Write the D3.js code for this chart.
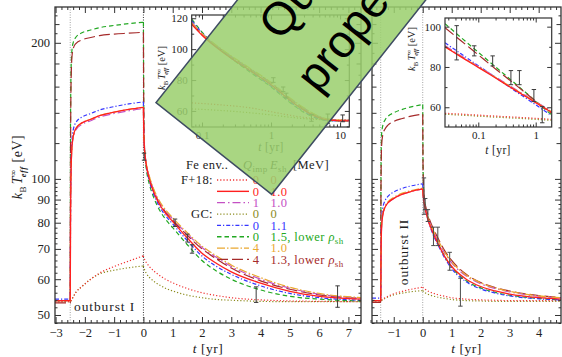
<!DOCTYPE html>
<html>
<head>
<meta charset="utf-8">
<script src="https://cdn.jsdelivr.net/npm/d3@7/dist/d3.min.js"></script>
<style>
  body { margin: 0; background: #fff; }
  svg { display: block; }
</style>
</head>
<body>
<script>
// model order: F+18, F+18 heated, Q=1, GC, GC 1.1, GC 1.5 lower rho, Q=4, Q=4 1.3 lower rho
const qImp = ["0", "0", "1", "0", "0", "0", "4", "4"];
const eSh = ["0", "1.0", "1.0", "0", "1.1", "1.5", "1.0", "1.3"];
const lowerRho = [false, false, false, false, false, true, false, true];

// outburst I (main panel)
const burst1T = [-2.5, -2.49, -2.47, -2.44, -2.4, -2.3, -2.1, -1.8, -1.5, -1, -0.5, 0];
const burst1 = [
  [53.5, 53.6, 53.8, 54.2, 54.8, 56.2, 57.8, 60.0, 61.9, 64.0, 65.8, 67.6],
  [53.8, 80, 105, 118, 124, 129.5, 133, 135.5, 138, 140.5, 142.5, 144],
  [53.8, 79, 104, 117, 123, 128.5, 132, 134.5, 137, 139.5, 141.5, 143],
  [53.5, 53.6, 53.8, 54.2, 54.8, 56.2, 57.8, 60.0, 61.6, 62.8, 63.6, 64.2],
  [54.2, 82, 108, 122, 128, 133.5, 137, 139.5, 142, 144.5, 146.5, 148],
  [53.8, 130, 175, 193, 200, 206, 210.5, 213.5, 216, 218.5, 220.5, 222],
  [53.8, 80, 105, 118, 124, 129.5, 133, 135.5, 138, 140.5, 142.5, 144],
  [53.2, 110, 165, 186.5, 194, 199.5, 203, 205.5, 207.5, 209, 210, 211]
];
const cool1T = [0, 0.01, 0.03, 0.06, 0.1, 0.2, 0.35, 0.5, 0.75, 1, 1.5, 2, 2.5, 3, 4, 5, 6, 7.5];
const cool1 = [
  [67.6, 67.2, 66.6, 66, 65.3, 64, 62.6, 61.5, 60, 58.9, 57.2, 56, 55.2, 54.6, 54, 53.7, 53.6, 53.5],
  [144, 128, 118, 112, 107, 100, 93.5, 89, 84, 80.5, 74, 68.5, 65, 62.3, 58.8, 56.4, 55, 54.2],
  [143, 127, 118, 112, 107.5, 101, 94.5, 90, 85, 81.5, 75.5, 70.5, 67, 64, 60, 57.3, 55.6, 54.5],
  [64.2, 63.8, 63.2, 62.5, 61.8, 60.6, 59.4, 58.5, 57.3, 56.5, 55.3, 54.6, 54.1, 53.9, 53.6, 53.5, 53.5, 53.5],
  [148, 130, 119, 112, 106.5, 99, 92.5, 88, 83, 79.5, 73, 67.5, 64, 61.5, 58, 55.8, 54.6, 53.9],
  [222, 150, 121, 111, 105, 97.5, 91, 86.5, 81.5, 78, 71.5, 66, 62.5, 60, 56.8, 55, 54.2, 53.7],
  [144, 128, 118.5, 112.5, 108, 101.5, 95, 90.5, 85.5, 82, 76, 71, 67.5, 64.5, 60.5, 57.6, 55.8, 54.6],
  [211, 148, 121, 112, 107, 100.5, 94, 89.5, 84.5, 81, 75, 70, 66.5, 63.5, 59.5, 57, 55.4, 54.4]
];

// outburst II (right panel)
const burst2T = [-1.45, -1.44, -1.42, -1.38, -1.3, -1.2, -1, -0.7, -0.4, 0];
const burst2 = [
  [53.8, 53.9, 54, 54.2, 54.6, 55, 55.7, 56.4, 57, 57.6],
  [53.8, 66, 78, 83, 86.5, 88.5, 90.5, 92.5, 93.8, 95],
  [53.8, 66, 78, 83, 86.5, 88.5, 90.5, 92.5, 93.8, 95],
  [53.6, 53.7, 53.8, 54, 54.4, 54.8, 55.4, 55.9, 56.3, 56.6],
  [54.5, 68, 80, 86, 89.5, 91.5, 93.5, 95.3, 96.5, 97.5],
  [53.8, 100, 125, 131, 135, 137.5, 140, 142.5, 144.3, 146],
  [53.8, 66.5, 78.5, 83.5, 87, 89, 91, 93, 94.2, 95.4],
  [53.3, 95, 118, 125, 129, 131.5, 134, 136, 137.7, 139]
];
const cool2T = [0, 0.01, 0.03, 0.06, 0.1, 0.2, 0.35, 0.5, 0.75, 1, 1.5, 2, 2.5, 3, 4, 4.8];
const cool2 = [
  [57.6, 57.5, 57.3, 57.1, 56.9, 56.4, 55.9, 55.5, 55, 54.6, 54.2, 54, 53.9, 53.8, 53.8, 53.8],
  [95, 92.5, 90, 87.5, 85, 80.5, 76, 72.5, 67.5, 64, 60, 57.8, 56.5, 55.6, 54.6, 54.2],
  [95, 92.5, 90.2, 88, 85.5, 81.2, 77, 73.5, 68.7, 65.2, 61, 58.6, 57.2, 56.2, 55, 54.5],
  [56.6, 56.5, 56.3, 56.1, 55.9, 55.5, 55.1, 54.8, 54.4, 54.1, 53.8, 53.7, 53.6, 53.6, 53.6, 53.6],
  [97.5, 93.5, 90.5, 88, 85.2, 80.5, 75.5, 72, 67, 63.3, 59.2, 57.1, 55.9, 55.1, 54.3, 54],
  [146, 110, 95, 89.5, 86.5, 81.5, 76.5, 72.8, 67.5, 63.8, 59.5, 57.4, 56.1, 55.3, 54.4, 54],
  [95.4, 92.7, 90.3, 88.2, 85.7, 81.5, 77.3, 73.8, 69, 65.5, 61.3, 58.9, 57.4, 56.4, 55.1, 54.6],
  [139, 108, 95, 90, 87, 82.5, 78, 74.5, 69.5, 66, 61.5, 59, 57.5, 56.5, 55.2, 54.6]
];

// insets (log time)
const inset1T = [0.0709, 0.1, 0.2, 0.5, 1, 2, 3, 5, 7, 10, 13.6];
const inset1 = [
  [65.2, 64.8, 63.8, 62, 59.5, 57, 55.8, 54.6, 54.2, 54, 54],
  [116, 109, 98, 86, 77, 66, 60.5, 55.5, 54, 53.6, 53.5],
  [117.5, 110, 99, 87, 78, 67, 61.5, 56.2, 54.5, 53.9, 53.8],
  [61.3, 61, 60.2, 58.8, 57.4, 55.8, 55, 54.4, 54.1, 54, 54],
  [118.5, 110.5, 98.5, 85.5, 76, 65, 59.5, 55, 53.8, 53.5, 53.5],
  [119.5, 111, 98.5, 85, 75.5, 64.5, 59, 54.8, 53.7, 53.5, 53.5],
  [117, 110, 99.5, 87.5, 78.5, 67.5, 62, 56.5, 54.6, 54, 53.8],
  [117, 109.5, 99, 87, 78, 67, 61.5, 56.2, 54.5, 53.9, 53.8]
];
const inset2T = [0.0263, 0.05, 0.1, 0.2, 0.5, 1, 1.9];
const inset2 = [
  [57, 56.6, 56.1, 55.6, 55, 54.5, 54],
  [90, 85, 79.8, 74.5, 67.5, 62.3, 57.4],
  [90.5, 85.5, 80.3, 75, 68, 62.8, 58],
  [56.5, 56.1, 55.6, 55.1, 54.5, 54, 53.5],
  [92, 86.5, 80.6, 74.8, 67, 61.2, 55.8],
  [101.5, 94.6, 87.3, 80, 70.4, 63, 56.2],
  [90, 85.2, 80, 74.8, 67.8, 62.5, 57.8],
  [99.5, 93, 86, 79, 70, 63, 57]
];

// observations
const obs1T = [0.02, 1.08, 1.5, 1.66, 3.85, 6.63, 10.9];
const obs1V = [112, 80, 74, 70, 55.5, 55, 55.2];
const obs1E = [2, 1.5, 1.5, 1.5, 2.2, 3, 2.2];
const obs2T = [0.042, 0.085, 0.178, 0.37, 0.52, 0.93, 1.3];
const obs2V = [92, 88, 83, 74.7, 74.7, 65.8, 56.3];
const obs2E = [8.5, 2.5, 2.5, 3.5, 3.5, 3, 4];

// tick labels
const xTicksMain = [-3, -2, -1, 0, 1, 2, 3, 4, 5, 6, 7];
const xTicksRight = [-1, 0, 1, 2, 3, 4];
const yTicks = [50, 60, 70, 80, 90, 100, 200];
const yTicksInset1 = [60, 80, 100, 120];
const yTicksInset2 = [60, 80, 100];
const xTicksInset = [0.1, 1, 10];

// styles
const styles = [
  { color: "#f03434", dash: "1.2,2", w: 1.2 },
  { color: "#ff1f1f", dash: null, w: 1.3 },
  { color: "#c450c4", dash: "8,3,1.5,3", w: 1.2 },
  { color: "#8c8c1e", dash: "1.2,2", w: 1.2 },
  { color: "#3535ff", dash: "4,2,1.2,2", w: 1.2 },
  { color: "#22a822", dash: "4.5,3", w: 1.2 },
  { color: "#eaa830", dash: "8,2,1.5,2", w: 1.2 },
  { color: "#a52a2a", dash: "11,4", w: 1.2 }
];
const drawOrder = [3, 0, 5, 7, 4, 2, 6, 1];

const W = 562, H = 357;
const serif = "'Liberation Serif','DejaVu Serif',serif";
const ink = "#333";

const svg = d3.select("body").append("svg").attr("width", W).attr("height", H);
const defs = svg.append("defs");

const main = { x0: 55, x1: 361, y0: 7, y1: 323 };
const right = { x0: 372, x1: 561, y0: 7, y1: 323 };

const x1 = d3.scaleLinear().domain([-3.02, 7.43]).range([main.x0, main.x1]);
const x2 = d3.scaleLinear().domain([-1.75, 4.77]).range([right.x0, right.x1]);
const y = d3.scaleLog().domain([48, 240]).range([main.y1, main.y0]);

function clip(id, b) {
  defs.append("clipPath").attr("id", id).append("rect")
    .attr("x", b.x0).attr("y", b.y0).attr("width", b.x1 - b.x0).attr("height", b.y1 - b.y0);
}
clip("cMain", main);
clip("cRight", right);

const line = d3.line().x(d => d[0]).y(d => d[1]).curve(d3.curveMonotoneX);

function curve(g, pts, s) {
  g.append("path").attr("d", line(pts)).attr("fill", "none")
    .attr("stroke", s.color).attr("stroke-width", s.w)
    .attr("stroke-dasharray", s.dash);
}

function drawPanel(g, xS, burstT, burst, coolT, cool) {
  const t0 = xS.domain()[0];
  drawOrder.forEach(i => {
    const pts = [[xS(t0), y(burst[i][0])]].concat(burstT.map((t, j) => [xS(t), y(burst[i][j])]));
    curve(g, pts, styles[i]);
    curve(g, coolT.map((t, j) => [xS(t), y(cool[i][j])]), styles[i]);
  });
}

function errBars(g, xS, yS, ts, vs, es, col) {
  ts.forEach((t, i) => {
    const x = xS(t), a = yS(vs[i] - es[i]), b = yS(vs[i] + es[i]);
    g.append("line").attr("x1", x).attr("x2", x).attr("y1", a).attr("y2", b);
    g.append("line").attr("x1", x - 2.2).attr("x2", x + 2.2).attr("y1", a).attr("y2", a);
    g.append("line").attr("x1", x - 2.2).attr("x2", x + 2.2).attr("y1", b).attr("y2", b);
  });
  g.attr("stroke", col).attr("stroke-width", 1);
}

function vDotted(g, x, b, col) {
  g.append("line").attr("x1", x).attr("x2", x).attr("y1", b.y0).attr("y2", b.y1)
    .attr("stroke", col).attr("stroke-width", 0.9).attr("stroke-dasharray", "1,1.5");
}

function styleAxis(g, size) {
  g.select(".domain").remove();
  g.selectAll("line").attr("stroke", ink);
  g.selectAll("text").attr("font-family", serif).attr("font-size", size).attr("fill", "#222");
}

const fmt = d => d < 0 ? "\u2212" + (-d) : String(d);

function frameAxes(b, xS, xTicks, xMinor, labelsY) {
  const g = svg.append("g");
  g.append("g").attr("transform", `translate(0,${b.y1})`)
    .call(d3.axisBottom(xS).tickValues(xTicks).tickSizeInner(-6).tickSizeOuter(0).tickPadding(5).tickFormat(fmt))
    .call(s => styleAxis(s, 12.5));
  g.append("g").attr("transform", `translate(0,${b.y1})`)
    .call(d3.axisBottom(xS).tickValues(xMinor).tickSize(-3).tickFormat(""))
    .call(s => styleAxis(s, 12));
  g.append("g").attr("transform", `translate(0,${b.y0})`)
    .call(d3.axisTop(xS).tickValues(xTicks).tickSize(-6).tickFormat(""))
    .call(s => styleAxis(s, 12));
  g.append("g").attr("transform", `translate(0,${b.y0})`)
    .call(d3.axisTop(xS).tickValues(xMinor).tickSize(-3).tickFormat(""))
    .call(s => styleAxis(s, 12));

  const yMinor = d3.range(48, 100, 2).filter(v => v % 10 !== 0).concat([110, 130, 150, 170, 190, 210, 230]);
  const yMid = [120, 140, 160, 180, 220];
  [[b.x0, d3.axisLeft, labelsY], [b.x1, d3.axisRight, false]].forEach(([xp, ax, lab]) => {
    g.append("g").attr("transform", `translate(${xp},0)`)
      .call(ax(y).tickValues(yTicks).tickSizeInner(-6).tickSizeOuter(0).tickPadding(5)
        .tickFormat(lab ? (d => String(d)) : ""))
      .call(s => styleAxis(s, 12.5));
    g.append("g").attr("transform", `translate(${xp},0)`)
      .call(ax(y).tickValues(yMid).tickSize(-4.5).tickFormat(""))
      .call(s => styleAxis(s, 12));
    g.append("g").attr("transform", `translate(${xp},0)`)
      .call(ax(y).tickValues(yMinor).tickSize(-2.5).tickFormat(""))
      .call(s => styleAxis(s, 12));
  });
  g.append("rect").attr("x", b.x0).attr("y", b.y0).attr("width", b.x1 - b.x0).attr("height", b.y1 - b.y0)
    .attr("fill", "none").attr("stroke", ink).attr("stroke-width", 1.3);
}

// y axis label "k_B T^inf_eff [eV]"
function kTLabel(t, size) {
  t.attr("font-family", serif).attr("font-size", size).attr("fill", "#222");
  t.append("tspan").attr("font-style", "italic").text("k");
  t.append("tspan").attr("font-size", size * 0.65).attr("dy", size * 0.25).text("B");
  t.append("tspan").attr("font-style", "italic").attr("dy", -size * 0.25).attr("dx", size * 0.12).text("T");
  t.append("tspan").attr("font-size", size * 0.6).attr("dy", -size * 0.42).text("\u221e");
  t.append("tspan").attr("font-size", size * 0.6).attr("font-style", "italic").attr("font-weight", "bold")
    .attr("dx", -size * 0.55).attr("dy", size * 0.72).text("eff");
  t.append("tspan").attr("dy", -size * 0.3).text(" [eV]");
}
function tLabel(t, size) {
  t.attr("font-family", serif).attr("font-size", size).attr("fill", "#222").attr("text-anchor", "middle");
  t.append("tspan").attr("font-style", "italic").text("t");
  t.append("tspan").text("  [yr]");
}

// ---------- main panel ----------
const gMain = svg.append("g").attr("clip-path", "url(#cMain)");
vDotted(gMain, x1(-2.5), main, "#999");
vDotted(gMain, x1(0), main, "#222");
drawPanel(gMain, x1, burst1T, burst1, cool1T, cool1);
errBars(gMain.append("g"), x1, y, obs1T, obs1V, obs1E, "#3a3a3a");

const xMinor1 = d3.range(-3, 7.45, 0.2).map(v => +v.toFixed(1)).filter(v => Math.abs(v - Math.round(v)) > 0.01);
frameAxes(main, x1, xTicksMain, xMinor1, true);

// ---------- right panel ----------
const gRight = svg.append("g").attr("clip-path", "url(#cRight)");
vDotted(gRight, x2(-1.45), right, "#999");
vDotted(gRight, x2(0), right, "#999");
drawPanel(gRight, x2, burst2T, burst2, cool2T, cool2);
errBars(gRight.append("g"), x2, y, obs2T, obs2V, obs2E, "#4a4a4a");
const xMinor2 = d3.range(-1.8, 4.8, 0.2).map(v => +v.toFixed(1)).filter(v => Math.abs(v - Math.round(v)) > 0.01);
frameAxes(right, x2, xTicksRight, xMinor2, false);

// axis titles
kTLabel(svg.append("text").attr("transform", "translate(22,167) rotate(-90)").attr("text-anchor", "middle")
  .attr("letter-spacing", 0.5), 14);
tLabel(svg.append("text").attr("x", 208).attr("y", 353).attr("letter-spacing", 0.5), 13.5);
tLabel(svg.append("text").attr("x", 466.5).attr("y", 353).attr("letter-spacing", 0.5), 13.5);

svg.append("text").attr("x", 74).attr("y", 311).attr("font-family", serif).attr("font-size", 13.5)
  .attr("letter-spacing", 0.9).attr("fill", "#222").text("outburst I");
svg.append("text").attr("transform", "translate(408,252) rotate(-90)").attr("text-anchor", "middle")
  .attr("font-family", serif).attr("font-size", 13.5).attr("letter-spacing", 0.9).attr("fill", "#222").text("outburst II");

// ---------- legend ----------
const lg = svg.append("g").attr("font-family", serif).attr("font-size", 12.5).attr("letter-spacing", 0.4);
const hy = 169;
lg.append("text").attr("x", 186).attr("y", hy).attr("fill", "#222").text("Fe env..");
const qh = lg.append("text").attr("x", 243).attr("y", hy).attr("fill", "#222");
qh.append("tspan").attr("font-style", "italic").text("Q");
qh.append("tspan").attr("font-size", 9).attr("dy", 3).text("imp");
const eh = lg.append("text").attr("x", 270).attr("y", hy).attr("fill", "#222");
eh.append("tspan").attr("font-style", "italic").text("E");
eh.append("tspan").attr("font-size", 9).attr("dy", 3).text("sh");
lg.append("text").attr("x", 293).attr("y", hy).attr("fill", "#222").text("[MeV]");

qImp.forEach((q, i) => {
  const ry = 180 + 11.35 * i;
  const s = styles[i];
  lg.append("line").attr("x1", 217).attr("x2", 249).attr("y1", ry).attr("y2", ry)
    .attr("stroke", s.color).attr("stroke-width", s.w + 0.1).attr("stroke-dasharray", s.dash);
  lg.append("text").attr("x", 256).attr("y", ry + 4.3).attr("text-anchor", "middle").attr("fill", s.color).text(q);
  const et = lg.append("text").attr("x", 270.5).attr("y", ry + 4.3).attr("fill", s.color);
  et.append("tspan").text(eSh[i] + (lowerRho[i] ? ", lower " : ""));
  if (lowerRho[i]) {
    et.append("tspan").attr("font-style", "italic").text("\u03c1");
    et.append("tspan").attr("font-size", 9).attr("dy", 3).text("sh");
  }
});
lg.append("text").attr("x", 213).attr("y", 180 + 4.3).attr("text-anchor", "end").attr("fill", "#222").text("F+18:");
lg.append("text").attr("x", 213).attr("y", 180 + 11.35 * 3 + 4.3).attr("text-anchor", "end").attr("fill", "#222").text("GC:");

// ---------- insets ----------
function inset(b, xS, yS, ts, data, yT, yMinorT, xMinorT, id, obsT, obsV, obsE) {
  const g = svg.append("g");
  g.append("rect").attr("x", b.x0).attr("y", b.y0).attr("width", b.x1 - b.x0).attr("height", b.y1 - b.y0)
    .attr("fill", "#fff");
  clip(id, b);
  const gc = g.append("g").attr("clip-path", `url(#${id})`);
  drawOrder.forEach(i => {
    curve(gc, ts.map((t, j) => [xS(t), yS(data[i][j])]), styles[i]);
  });
  errBars(gc.append("g"), xS, yS, obsT, obsV, obsE, "#3a3a3a");

  const xm = xTicksInset.filter(v => v >= xS.domain()[0] && v <= xS.domain()[1]);
  g.append("g").attr("transform", `translate(0,${b.y1})`)
    .call(d3.axisBottom(xS).tickValues(xm).tickSizeInner(-4.5).tickSizeOuter(0).tickPadding(4).tickFormat(d => String(d)))
    .call(s => styleAxis(s, 11));
  g.append("g").attr("transform", `translate(0,${b.y1})`)
    .call(d3.axisBottom(xS).tickValues(xMinorT).tickSize(-2.5).tickFormat(""))
    .call(s => styleAxis(s, 11));
  g.append("g").attr("transform", `translate(0,${b.y0})`)
    .call(d3.axisTop(xS).tickValues(xm).tickSize(-4.5).tickFormat(""))
    .call(s => styleAxis(s, 11));
  g.append("g").attr("transform", `translate(0,${b.y0})`)
    .call(d3.axisTop(xS).tickValues(xMinorT).tickSize(-2.5).tickFormat(""))
    .call(s => styleAxis(s, 11));
  g.append("g").attr("transform", `translate(${b.x0},0)`)
    .call(d3.axisLeft(yS).tickValues(yT).tickSizeInner(-4.5).tickSizeOuter(0).tickPadding(4).tickFormat(d => String(d)))
    .call(s => styleAxis(s, 11));
  g.append("g").attr("transform", `translate(${b.x0},0)`)
    .call(d3.axisLeft(yS).tickValues(yMinorT).tickSize(-2.5).tickFormat(""))
    .call(s => styleAxis(s, 11));
  g.append("g").attr("transform", `translate(${b.x1},0)`)
    .call(d3.axisRight(yS).tickValues(yT).tickSize(-4.5).tickFormat(""))
    .call(s => styleAxis(s, 11));
  g.append("g").attr("transform", `translate(${b.x1},0)`)
    .call(d3.axisRight(yS).tickValues(yMinorT).tickSize(-2.5).tickFormat(""))
    .call(s => styleAxis(s, 11));
  g.append("rect").attr("x", b.x0).attr("y", b.y0).attr("width", b.x1 - b.x0).attr("height", b.y1 - b.y0)
    .attr("fill", "none").attr("stroke", ink).attr("stroke-width", 1.2);
  return g;
}

const logMinor = [0.03, 0.04, 0.05, 0.06, 0.07, 0.08, 0.09, 0.2, 0.3, 0.4, 0.5, 0.6, 0.7, 0.8, 0.9,
  2, 3, 4, 5, 6, 7, 8, 9, 20];

const ib1 = { x0: 191.7, x1: 349.3, y0: 15, y1: 127 };
const xi1 = d3.scaleLog().domain([0.0709, 13.6]).range([ib1.x0, ib1.x1]);
const yi1 = d3.scaleLinear().domain([49.6, 122.1]).range([ib1.y1, ib1.y0]);
inset(ib1, xi1, yi1, inset1T, inset1, yTicksInset1, [50, 70, 90, 110],
  logMinor.filter(v => v > 0.0709 && v < 13.6), "cI1", obs1T, obs1V, obs1E);
kTLabel(svg.append("text").attr("transform", "translate(165,68) rotate(-90)").attr("text-anchor", "middle"), 10.5);
tLabel(svg.append("text").attr("x", 271).attr("y", 151).attr("letter-spacing", 0.4), 11.5);

const ib2 = { x0: 445, x1: 551.7, y0: 18, y1: 127 };
const xi2 = d3.scaleLog().domain([0.0263, 1.9]).range([ib2.x0, ib2.x1]);
const yi2 = d3.scaleLinear().domain([50.2, 104.3]).range([ib2.y1, ib2.y0]);
inset(ib2, xi2, yi2, inset2T, inset2, yTicksInset2, [70, 90],
  logMinor.filter(v => v > 0.0263 && v < 1.9), "cI2", obs2T, obs2V, obs2E);
kTLabel(svg.append("text").attr("transform", "translate(415,49) rotate(-90)").attr("text-anchor", "middle"), 10.5);
tLabel(svg.append("text").attr("x", 498).attr("y", 154).attr("letter-spacing", 0.4), 11.5);

// ---------- banner ----------
const banner = svg.append("g").attr("transform", "translate(156,102.7) rotate(-51.6)");
banner.append("rect").attr("x", 0).attr("y", 0).attr("width", 700).attr("height", 147.6)
  .attr("fill", "#9bcf6e").attr("fill-opacity", 0.86)
  .attr("stroke", "#3e4c62").attr("stroke-width", 1.5);
banner.append("text").attr("x", 125).attr("y", 60)
  .attr("font-family", "'Liberation Sans',Arial,sans-serif").attr("font-size", 46).attr("fill", "#000")
  .text("Quick");
banner.append("text").attr("x", 107.2).attr("y", 122)
  .attr("font-family", "'Liberation Sans',Arial,sans-serif").attr("font-size", 46).attr("fill", "#000")
  .text("properties");
</script>
</body>
</html>
